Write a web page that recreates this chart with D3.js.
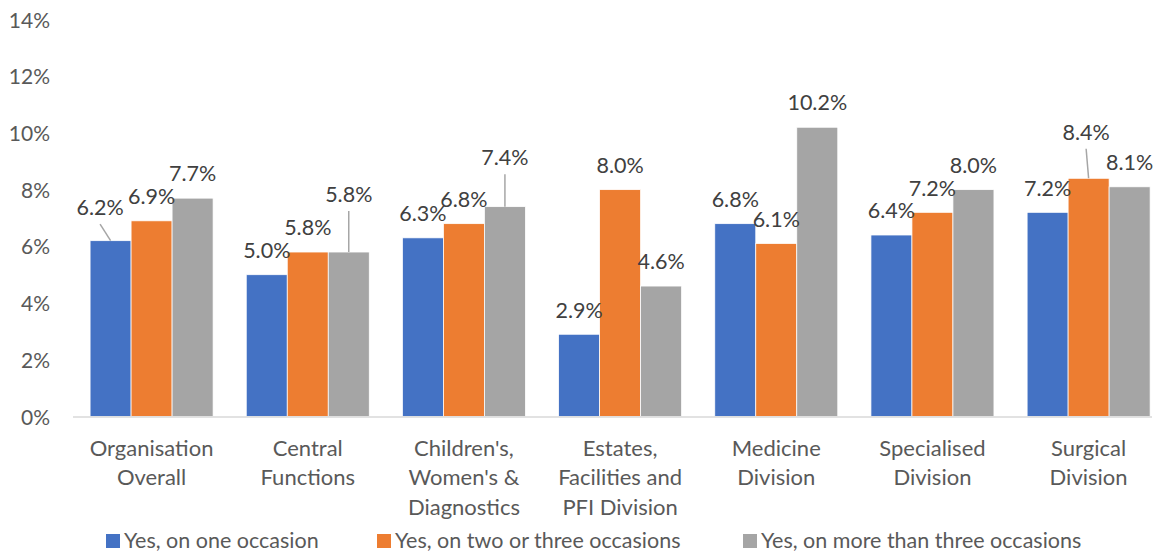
<!DOCTYPE html>
<html>
<head>
<meta charset="utf-8">
<script src="https://cdn.jsdelivr.net/npm/d3@7"></script>
<style>
  body { margin: 0; background: #fff; }
  svg { display: block; font-family: Lato, "Open Sans", sans-serif; }
</style>
</head>
<body>
<svg id="chart"></svg>
<script>
// Categories (split into the lines shown under the axis)
var categories = ["Organisation Overall", "Central Functions", "Children's, Women's & Diagnostics",
    "Estates, Facilities and PFI Division", "Medicine Division", "Specialised Division", "Surgical Division"];
var categoryLines = [
    ["Organisation", "Overall"],
    ["Central", "Functions"],
    ["Children's,", "Women's &", "Diagnostics"],
    ["Estates,", "Facilities and", "PFI Division"],
    ["Medicine", "Division"],
    ["Specialised", "Division"],
    ["Surgical", "Division"]
];

var seriesNames = ["Yes, on one occasion", "Yes, on two or three occasions", "Yes, on more than three occasions"];
var oneOccasion = [6.2, 5.0, 6.3, 2.9, 6.8, 6.4, 7.2];
var twoOrThreeOccasions = [6.9, 5.8, 6.8, 8.0, 6.1, 7.2, 8.4];
var moreThanThreeOccasions = [7.7, 5.8, 7.4, 4.6, 10.2, 8.0, 8.1];
var yTicks = [0, 2, 4, 6, 8, 10, 12, 14];

var colours = ["#4472C4", "#ED7D31", "#A5A5A5"];

// Labels that were dragged away from the bar in the original (with leader lines)
var labelNudges = [
    {cat: 0, series: 0, dx: -10.5, dy: -9},
    {cat: 1, series: 2, dx: 0, dy: -33.5},
    {cat: 2, series: 2, dx: 0, dy: -25},
    {cat: 6, series: 1, dx: -2.5, dy: -22}
];

var svgWidth = 1158;
var svgHeight = 554;

var allSeries = [oneOccasion, twoOrThreeOccasions, moreThanThreeOccasions];
var data = categories.map(function(c, i) {
    return {category: c, lines: categoryLines[i], values: allSeries.map(function(s) { return s[i]; })};
});

var svg = d3.select('#chart')
    .attr('width', svgWidth)
    .attr('height', svgHeight);

// Scales
var xScale = d3.scaleBand()
    .domain(categories)
    .range([73.5, 1166.7])
    .paddingInner(0.2124)
    .paddingOuter(0.1062);

var xInner = d3.scaleBand()
    .domain([0, 1, 2])
    .range([0, xScale.bandwidth()]);

var yScale = d3.scaleLinear()
    .domain([0, 14])
    .range([416.5, 19.5]);

// Y axis labels (no gridlines in the original)
var yAxis = svg.append('g')
    .attr('transform', 'translate(50, 0)')
    .call(d3.axisLeft(yScale).tickValues(yTicks).tickSize(0).tickPadding(0).tickFormat(function(d) { return d + '%'; }));
yAxis.select('.domain').remove();
yAxis.selectAll('text')
    .attr('fill', '#595959')
    .style('font-size', '21px')
    .style('font-family', 'Lato, sans-serif')
    .attr('dy', '0.36em');

// Bars
var groups = svg.append('g')
    .selectAll('g')
    .data(data)
    .join('g')
    .attr('transform', function(d) { return 'translate(' + xScale(d.category) + ',0)'; });

groups.selectAll('rect')
    .data(function(d) { return d.values; })
    .join('rect')
    .attr('x', function(d, i) { return xInner(i); })
    .attr('y', function(d) { return yScale(d); })
    .attr('width', xInner.bandwidth())
    .attr('height', function(d) { return yScale(0) - yScale(d); })
    .attr('fill', function(d, i) { return colours[i]; })
    .attr('stroke', '#ffffff')
    .attr('stroke-width', 0.75);

// Category axis line
svg.append('line')
    .attr('x1', 73)
    .attr('x2', 1152)
    .attr('y1', yScale(0) + 0.5)
    .attr('y2', yScale(0) + 0.5)
    .attr('stroke', '#D9D9D9')
    .attr('stroke-width', 1.5);

// Data labels + leader lines
var labelLayer = svg.append('g');
data.forEach(function(d, ci) {
    d.values.forEach(function(v, si) {
        var barX = xScale(d.category) + xInner(si) + xInner.bandwidth() / 2;
        var barTop = yScale(v);
        var lx = barX;
        var ly = barTop - 24.5;
        var nudge = labelNudges.find(function(n) { return n.cat == ci && n.series == si; });
        if (nudge) {
            lx += nudge.dx;
            ly += nudge.dy;
            labelLayer.append('line')
                .attr('x1', lx)
                .attr('y1', ly + 17)
                .attr('x2', barX)
                .attr('y2', barTop)
                .attr('stroke', '#A6A6A6')
                .attr('stroke-width', 1.5);
        }
        labelLayer.append('text')
            .attr('x', lx)
            .attr('y', ly)
            .attr('dy', '0.36em')
            .attr('text-anchor', 'middle')
            .attr('fill', '#404040')
            .style('font-size', '21.5px')
            .text(v.toFixed(1) + '%');
    });
});

// Category labels
var catLabels = svg.append('g')
    .selectAll('text')
    .data(data)
    .join('text')
    .attr('text-anchor', 'middle')
    .attr('fill', '#595959')
    .style('font-size', '22px')
    .attr('x', function(d) { return xScale(d.category) + xScale.bandwidth() / 2; });

catLabels.selectAll('tspan')
    .data(function(d) { return d.lines; })
    .join('tspan')
    .attr('x', function() { return d3.select(this.parentNode).attr('x'); })
    .attr('y', function(d, i) { return 448 + i * 29.5; })
    .attr('dy', '0.36em')
    .text(function(d) { return d; });

// Legend
var legendX = [106, 377, 743];
var legend = svg.append('g')
    .selectAll('g')
    .data(seriesNames)
    .join('g')
    .attr('transform', function(d, i) { return 'translate(' + legendX[i] + ',540.5)'; });

legend.append('rect')
    .attr('x', 0)
    .attr('y', -6.5)
    .attr('width', 14)
    .attr('height', 14)
    .attr('fill', function(d, i) { return colours[i]; });

legend.append('text')
    .attr('x', 18)
    .attr('y', 0)
    .attr('dy', '0.36em')
    .attr('fill', '#595959')
    .style('font-size', '21.5px')
    .text(function(d) { return d; });
</script>
</body>
</html>
